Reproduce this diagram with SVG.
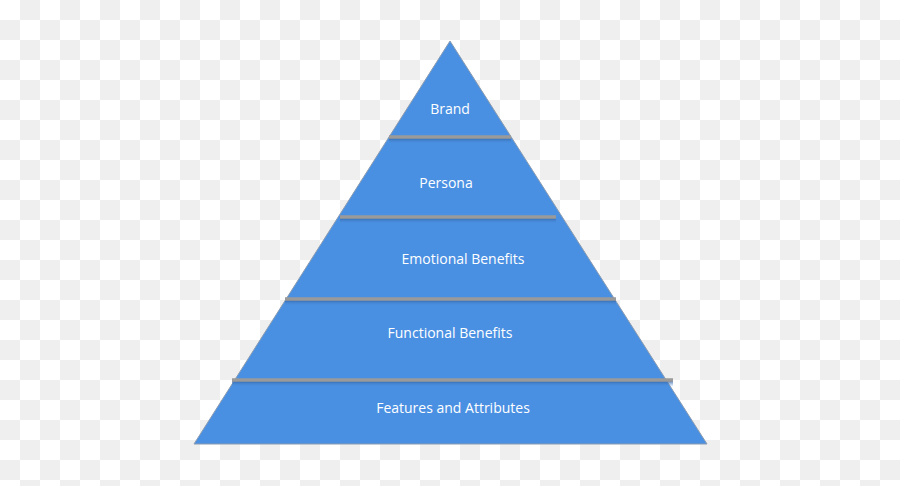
<svg xmlns="http://www.w3.org/2000/svg" width="900" height="486" viewBox="0 0 900 486">
<defs>
<pattern id="chk" width="40" height="40" patternUnits="userSpaceOnUse">
<rect width="40" height="40" fill="#ffffff"/>
<rect x="20" y="0" width="20" height="20" fill="#efefef"/>
<rect x="0" y="20" width="20" height="20" fill="#efefef"/>
</pattern>
<linearGradient id="sh" x1="0" y1="0" x2="0" y2="1">
<stop offset="0" stop-color="#2f5f9e" stop-opacity="0.8"/>
<stop offset="1" stop-color="#4a90e2" stop-opacity="0"/>
</linearGradient>
<style>
.lbl{font-family:"Open Sans","DejaVu Sans",sans-serif;font-size:14px;fill:#ffffff;text-anchor:middle}
.sep{stroke:#9a9a9a;stroke-width:3.5}
</style>
</defs>
<rect width="900" height="486" fill="url(#chk)"/>
<g id="pyramid">
<polygon points="450,41 707,444 194,444" fill="#4a90e2" stroke="#8a9bb0" stroke-width="1"/>
</g>
<g id="connectors">
<rect x="389" y="138" width="122" height="6" fill="url(#sh)"/>
<line class="sep" x1="389" y1="137" x2="511" y2="137"/>
<rect x="340" y="218" width="216" height="6" fill="url(#sh)"/>
<line class="sep" x1="340" y1="217" x2="556" y2="217"/>
<rect x="285" y="300" width="331" height="6" fill="url(#sh)"/>
<line class="sep" x1="285" y1="299" x2="616" y2="299"/>
<rect x="232" y="381" width="441" height="6" fill="url(#sh)"/>
<line class="sep" x1="232" y1="380" x2="673" y2="380"/>
</g>
<g id="brand"><text class="lbl" x="450" y="114">Brand</text></g>
<g id="persona"><text class="lbl" x="446" y="188">Persona</text></g>
<g id="emotional"><text class="lbl" x="463" y="264">Emotional Benefits</text></g>
<g id="functional"><text class="lbl" x="450" y="338">Functional Benefits</text></g>
<g id="features"><text class="lbl" x="453" y="413">Features and Attributes</text></g>
</svg>
